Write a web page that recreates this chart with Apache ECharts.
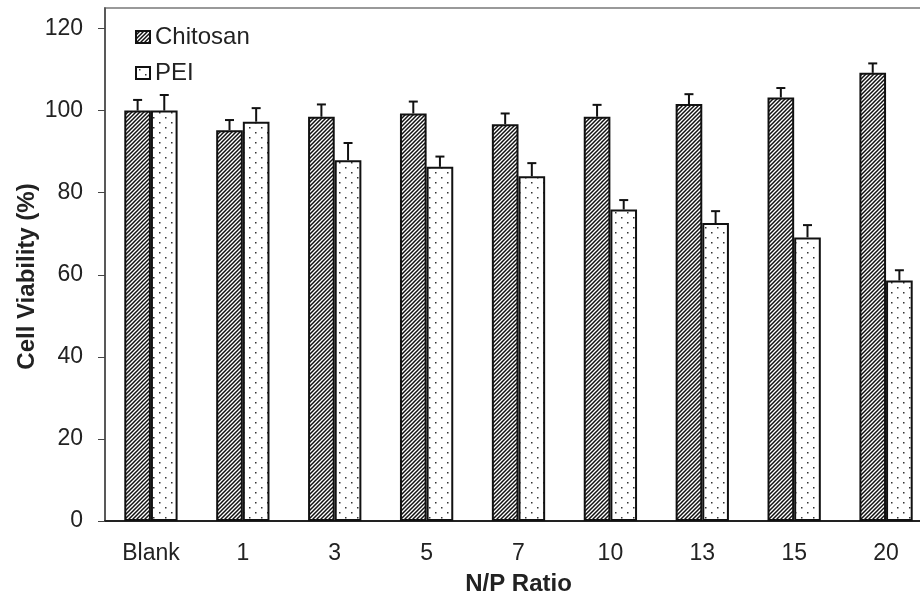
<!DOCTYPE html>
<html>
<head>
<meta charset="utf-8">
<script src="https://cdn.jsdelivr.net/npm/echarts@6/dist/echarts.min.js"></script>
<style>
  html, body { margin: 0; padding: 0; overflow: hidden; background: #fff; }
  #chart { width: 935px; height: 601px; }
</style>
</head>
<body>
<div id="chart"></div>
<script>
// data
const categories = ['Blank', '1', '3', '5', '7', '10', '13', '15', '20'];
const chitosan = [100.0, 95.2, 98.5, 99.3, 96.7, 98.5, 101.6, 103.2, 109.2];
const chitosanErr = [2.6, 2.5, 3.0, 2.9, 2.6, 2.9, 2.4, 2.3, 2.3];
const pei = [100.0, 97.3, 87.9, 86.3, 84.0, 75.9, 72.6, 69.1, 58.6];
const peiErr = [3.8, 3.3, 4.2, 2.5, 3.2, 2.3, 2.9, 3.0, 2.5];
const yTicks = [0, 20, 40, 60, 80, 100, 120];

// fill patterns
function hatchPattern() {
  const c = document.createElement('canvas');
  c.width = 4; c.height = 4;
  const ctx = c.getContext('2d');
  ctx.fillStyle = '#fff';
  ctx.fillRect(0, 0, 4, 4);
  ctx.strokeStyle = '#111';
  ctx.lineWidth = 1.5;
  ctx.beginPath();
  ctx.moveTo(-1, 5); ctx.lineTo(5, -1);
  ctx.moveTo(-1, 1); ctx.lineTo(1, -1);
  ctx.moveTo(3, 5); ctx.lineTo(5, 3);
  ctx.stroke();
  return { image: c, repeat: 'repeat' };
}
function dotPattern() {
  const c = document.createElement('canvas');
  c.width = 12; c.height = 10;
  const ctx = c.getContext('2d');
  ctx.fillStyle = '#fff';
  ctx.fillRect(0, 0, 12, 10);
  ctx.fillStyle = '#333';
  ctx.fillRect(3, 2, 1.5, 1.5);
  ctx.fillRect(9, 7, 1.5, 1.5);
  return { image: c, repeat: 'repeat' };
}

const gapPct = 0.42;

// upper error bar for one side of the pair (-1 left, +1 right)
function errorBar(side) {
  return function (params, api) {
    const i = api.value(0);
    const v = api.value(1);
    const e = api.value(2);
    const base = api.coord([i, v]);
    const top = api.coord([i, v + e]);
    const catW = api.size([1, 0])[0];
    const barW = catW * (1 - gapPct) / 2;
    const x = base[0] + side * barW / 2;
    const st = { stroke: '#111', lineWidth: 2 };
    return {
      type: 'group',
      children: [
        { type: 'line', shape: { x1: x, y1: base[1], x2: x, y2: top[1] }, style: st },
        { type: 'line', shape: { x1: x - 4.5, y1: top[1], x2: x + 4.5, y2: top[1] }, style: st }
      ]
    };
  };
}

const chart = echarts.init(document.getElementById('chart'));
const font = 'Liberation Sans, Arial, sans-serif';

chart.setOption({
  animation: false,
  textStyle: { fontFamily: font },
  grid: {
    left: 105, right: 3, top: 8, bottom: 78,
    show: true, borderColor: '#999', borderWidth: 2, backgroundColor: 'transparent'
  },
  legend: {
    data: ['Chitosan', 'PEI'],
    orient: 'vertical',
    left: 130, top: 20,
    icon: 'rect',
    itemWidth: 14, itemHeight: 12,
    itemGap: 12,
    textStyle: { fontSize: 24, color: '#222', fontFamily: font }
  },
  xAxis: {
    type: 'category',
    data: categories,
    name: 'N/P Ratio',
    nameLocation: 'middle',
    nameGap: 51,
    nameMoveOverlap: false,
    nameTextStyle: { fontSize: 24, fontWeight: 'bold', color: '#222' },
    axisLine: { lineStyle: { color: '#222', width: 2 } },
    axisTick: { length: 8, lineStyle: { color: '#444', width: 1 } },
    axisLabel: { fontSize: 23, color: '#222', margin: 21 }
  },
  yAxis: {
    type: 'value',
    min: 0, max: 125, interval: 20,
    name: 'Cell Viability (%)',
    nameLocation: 'middle',
    nameGap: 66,
    nameMoveOverlap: false,
    nameTextStyle: { fontSize: 24, fontWeight: 'bold', color: '#222', padding: [0, 24, 0, 0] },
    splitLine: { show: false },
    axisLine: { show: true, lineStyle: { color: '#444', width: 1.5 } },
    axisTick: { show: true, length: 7, customValues: yTicks, lineStyle: { color: '#444' } },
    axisLabel: { fontSize: 23, color: '#222', margin: 22, customValues: yTicks }
  },
  series: [
    {
      name: 'Chitosan',
      type: 'bar',
      data: chitosan,
      barGap: '0%',
      barCategoryGap: (gapPct * 100) + '%',
      itemStyle: { color: hatchPattern(), borderColor: '#111', borderWidth: 2 }
    },
    {
      name: 'PEI',
      type: 'bar',
      data: pei,
      itemStyle: { color: dotPattern(), borderColor: '#111', borderWidth: 2 }
    },
    {
      type: 'custom',
      renderItem: errorBar(-1),
      data: chitosan.map((v, i) => [i, v, chitosanErr[i]]),
      encode: { x: 0, y: 1 },
      z: 5
    },
    {
      type: 'custom',
      renderItem: errorBar(1),
      data: pei.map((v, i) => [i, v, peiErr[i]]),
      encode: { x: 0, y: 1 },
      z: 5
    }
  ]
});
</script>
</body>
</html>
